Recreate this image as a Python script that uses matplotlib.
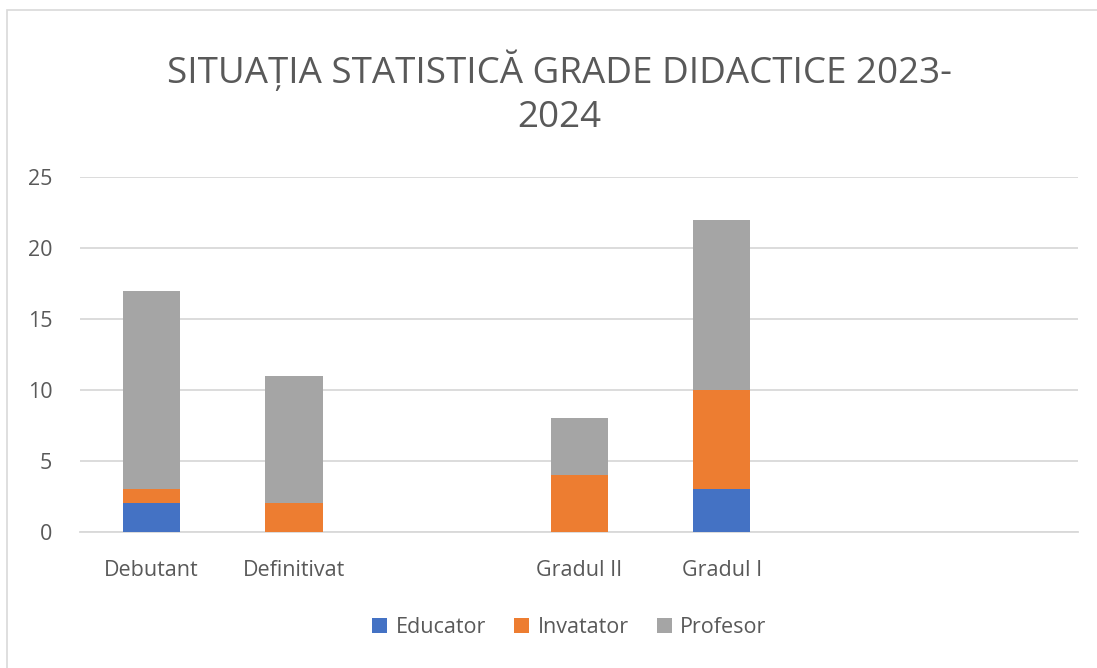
import numpy as np
import matplotlib
matplotlib.use("Agg")
from matplotlib import pyplot as plt
from matplotlib.patches import Rectangle

categories = ["Debutant", "Definitivat", "", "Gradul II", "Gradul I", "", ""]
educator = [2, 0, 0, 0, 3, 0, 0]
invatator = [1, 2, 0, 4, 7, 0, 0]
profesor = [14, 9, 0, 4, 12, 0, 0]
series_names = ["Educator", "Invatator", "Profesor"]
colors = ["#4472C4", "#ED7D31", "#A5A5A5"]
yticks = [0, 5, 10, 15, 20, 25]

plt.rcParams['font.family'] = ['Open Sans', 'DejaVu Sans']

fig = plt.figure(figsize=(10.97, 6.68), dpi=100)
fig.patches.append(Rectangle((0.006, -0.01), 1.0, 0.995, transform=fig.transFigure,
                             fill=False, edgecolor="#D9D9D9", linewidth=1.2))
ax = fig.add_axes([0.073, 0.204, 0.910, 0.531])

x = np.arange(len(categories))
bottom = np.zeros(len(categories))
for name, vals, c in zip(series_names, [educator, invatator, profesor], colors):
    vals = np.array(vals, dtype=float)
    ax.bar(x, vals, 0.4, bottom=bottom, color=c, label=name,
           linewidth=0, zorder=3)
    bottom += vals

ax.set_xlim(-0.5, len(categories) - 0.5)
ax.set_ylim(0, 25)
ax.set_yticks(yticks)
ax.set_xticks(x)
ax.set_xticklabels(categories)
ax.yaxis.grid(True, color="#D9D9D9", linewidth=1.3, zorder=0)
ax.set_axisbelow(True)
for s in ["top", "right", "left"]:
    ax.spines[s].set_visible(False)
ax.spines["bottom"].set_color("#D9D9D9")
ax.spines["bottom"].set_linewidth(1.3)
ax.tick_params(axis="both", length=0, labelsize=15.5, colors="#595959")
ax.tick_params(axis="x", pad=20)
ax.tick_params(axis="y", pad=20)

fig.text(0.51, 0.86, "SITUAȚIA STATISTICĂ GRADE DIDACTICE 2023-\n2024",
         ha="center", va="center", fontsize=26.5, color="#595959", linespacing=1.3)

ax.legend(loc="center", bbox_to_anchor=(0.49, -0.27), ncol=3, frameon=False,
          fontsize=15.5, labelcolor="#595959", handlelength=0.7, handleheight=0.7,
          columnspacing=1.3, handletextpad=0.4)

fig.savefig("out.png", dpi=100, facecolor="white")
